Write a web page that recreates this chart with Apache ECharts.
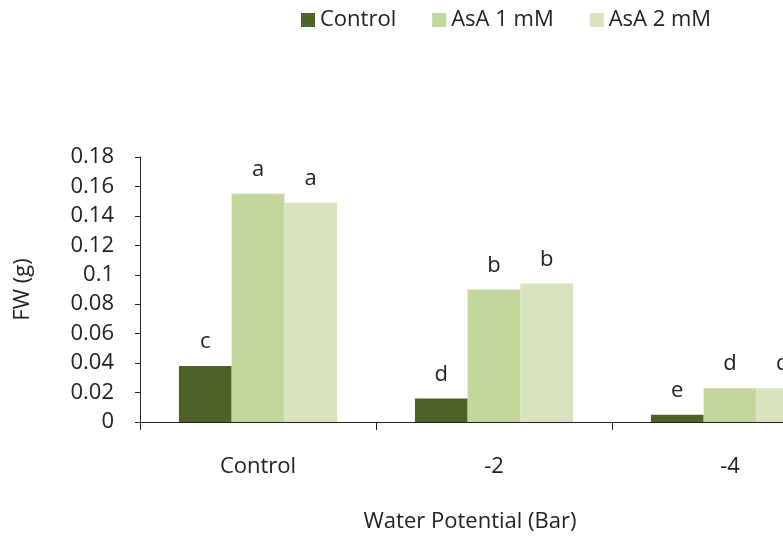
<!DOCTYPE html>
<html>
<head>
<meta charset="utf-8">
<script src="https://cdn.jsdelivr.net/npm/echarts@6/dist/echarts.min.js"></script>
<style>html,body{margin:0;padding:0;background:#fff;overflow:hidden;width:783px;height:536px;}#c{width:900px;height:536px;}</style>
</head>
<body>
<div id="c"></div>
<script>
var categories = ['Control', '-2', '-4'];
var seriesNames = ['Control', 'AsA 1 mM', 'AsA 2 mM'];
var controlVals = [0.038, 0.016, 0.005];
var asa1Vals = [0.155, 0.090, 0.023];
var asa2Vals = [0.149, 0.094, 0.023];
var controlLetters = ['c', 'd', 'e'];
var asa1Letters = ['a', 'b', 'd'];
var asa2Letters = ['a', 'b', 'd'];
var yTicks = [0, 0.02, 0.04, 0.06, 0.08, 0.1, 0.12, 0.14, 0.16, 0.18];

var colors = ['#4f6228', '#c3d69b', '#d7e4bd'];
var font = 'Open Sans';
var fs = 22;
var chart = echarts.init(document.getElementById('c'));

function mk(name, vals, letters, color) {
  return {
    name: name,
    type: 'bar',
    data: vals,
    barGap: '0%',
    barCategoryGap: '33%',
    itemStyle: { color: color },
    label: {
      show: true,
      position: 'top',
      distance: 13,
      fontFamily: font,
      fontSize: fs,
      color: '#222',
      formatter: function (p) { return letters[p.dataIndex]; }
    }
  };
}

chart.setOption({
  animation: false,
  color: colors,
  textStyle: { fontFamily: font },
  legend: {
    left: 296,
    top: 4,
    icon: 'rect',
    itemWidth: 14,
    itemHeight: 14,
    itemGap: 36,
    textStyle: { fontFamily: font, fontSize: fs, color: '#222' },
    data: seriesNames
  },
  grid: { left: 140, top: 157, width: 708, bottom: 114, containLabel: false },
  xAxis: {
    type: 'category',
    data: categories,
    name: 'Water Potential (Bar)',
    nameLocation: 'middle',
    nameGap: 89,
    nameTextStyle: { fontFamily: font, fontSize: fs, color: '#222', padding: [0, 48, 0, 0] },
    axisLine: { lineStyle: { color: '#222', width: 1 } },
    axisTick: { show: true, alignWithLabel: false, length: 8, lineStyle: { color: '#222' } },
    axisLabel: { fontFamily: font, fontSize: fs, color: '#222', margin: 34 }
  },
  yAxis: {
    type: 'value',
    min: 0,
    max: 0.18,
    interval: 0.02,
    name: 'FW (g)',
    nameLocation: 'middle',
    nameGap: 106,
    nameTextStyle: { fontFamily: font, fontSize: fs, color: '#222' },
    splitLine: { show: false },
    axisLine: { show: true, lineStyle: { color: '#222', width: 1 } },
    axisTick: { show: true, length: 5, lineStyle: { color: '#222' } },
    axisLabel: {
      fontFamily: font, fontSize: fs, color: '#222', margin: 26,
      formatter: function (v) {
        for (var i = 0; i < yTicks.length; i++) {
          if (Math.abs(yTicks[i] - v) < 1e-9) return String(yTicks[i]);
        }
        return '';
      }
    }
  },
  series: [
    mk(seriesNames[0], controlVals, controlLetters, colors[0]),
    mk(seriesNames[1], asa1Vals, asa1Letters, colors[1]),
    mk(seriesNames[2], asa2Vals, asa2Letters, colors[2])
  ]
});
</script>
</body>
</html>
